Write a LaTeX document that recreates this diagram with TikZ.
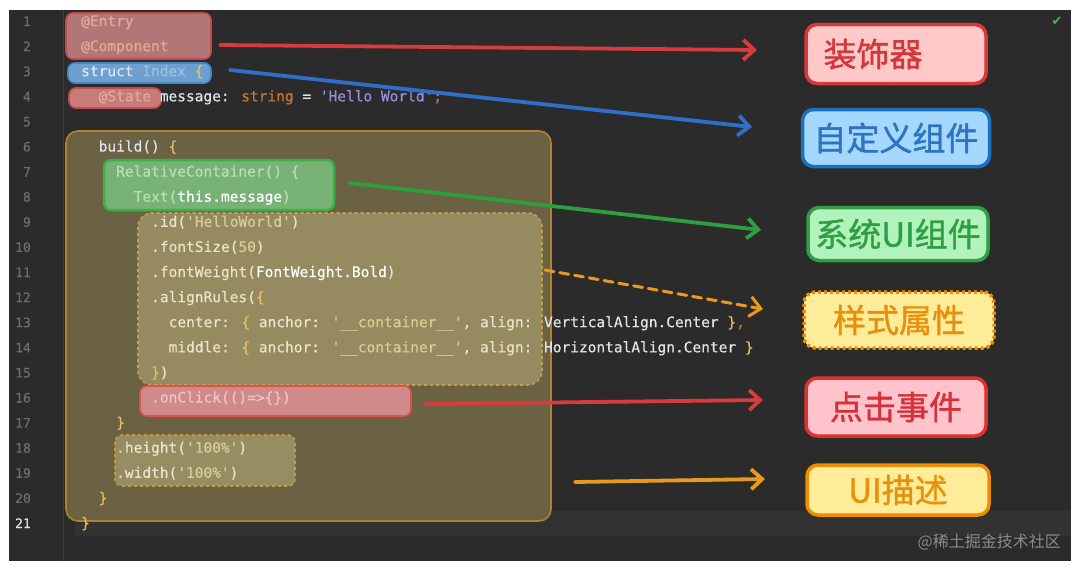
\documentclass[tikz,border=0pt]{standalone}
\usepackage{fontspec}
\newfontfamily\codefont[FakeBold=0.5]{DejaVu Sans Mono}
\newfontfamily\cjk{Noto Sans CJK SC}
\newfontfamily\cjkbold[FakeBold=1.2]{Noto Sans CJK SC}
\newfontfamily\sym{DejaVu Sans}
\usetikzlibrary{arrows.meta}
\definecolor{codebg}{HTML}{2B2B2B}
\definecolor{curline}{HTML}{323232}
\definecolor{gutline}{HTML}{3C3F41}
\definecolor{cnum}{HTML}{6A6E73}
\definecolor{cw}{HTML}{E0E4EA}
\definecolor{cy}{HTML}{E8C060}
\definecolor{cbrace}{HTML}{F0C040}
\definecolor{ckey}{HTML}{CC7832}
\definecolor{cstr}{HTML}{9C8CDF}
\definecolor{cann}{HTML}{E3A997}
\definecolor{cblue}{HTML}{9CC0E4}
\definecolor{cgreen}{HTML}{B8E0B0}
\definecolor{colive}{HTML}{ECE4C8}
\definecolor{colstr}{HTML}{D8CC98}
\definecolor{cpink}{HTML}{F3C4C4}
\definecolor{cwm}{HTML}{8C8C8C}
\definecolor{ccheck}{HTML}{4CAF50}
\definecolor{redline}{HTML}{D93A3C}
\definecolor{blueline}{HTML}{2F6FC8}
\definecolor{greenline}{HTML}{2E9E3E}
\definecolor{orangeline}{HTML}{E99A1E}
\definecolor{pinkfill}{HTML}{B27676}
\definecolor{pinkdraw}{HTML}{C24C4C}
\definecolor{statefill}{HTML}{C77B7B}
\definecolor{bluefill}{HTML}{6D9FD0}
\definecolor{bluedraw}{HTML}{4A86C5}
\definecolor{buildfill}{HTML}{6A6243}
\definecolor{builddraw}{HTML}{B0822C}
\definecolor{greenfill}{HTML}{78B276}
\definecolor{greendraw}{HTML}{3BB04A}
\definecolor{olivefill}{HTML}{968B60}
\definecolor{olivedraw}{HTML}{C2A050}
\definecolor{clickfill}{HTML}{D08A8A}
\definecolor{clickdraw}{HTML}{E05050}
\definecolor{sizefill}{HTML}{968D62}
\definecolor{sizedraw}{HTML}{C09A45}
\definecolor{decofill}{HTML}{FFC9C9}
\definecolor{decodraw}{HTML}{D9383A}
\definecolor{decotext}{HTML}{D0383A}
\definecolor{customfill}{HTML}{A5D8FF}
\definecolor{customdraw}{HTML}{1F6FC0}
\definecolor{customtext}{HTML}{2F74C2}
\definecolor{sysuifill}{HTML}{B2F2BB}
\definecolor{sysuidraw}{HTML}{2F9E44}
\definecolor{yellowfill}{HTML}{FFEC99}
\definecolor{yellowdraw}{HTML}{F08C00}
\definecolor{yellowtext}{HTML}{E8900C}
\definecolor{clicktagfill}{HTML}{FFC4CB}
\definecolor{clicktagdraw}{HTML}{E03131}
\definecolor{clicktext}{HTML}{D6303A}
\begin{document}
\begin{tikzpicture}[x=1pt,y=-1pt,
		code/.style={anchor=base west, inner sep=0pt,
			font=\codefont\fontsize{14.5}{17}\selectfont, text=cw},
		lnum/.style={anchor=base east, inner sep=0pt,
			font=\codefont\fontsize{13}{15}\selectfont, text=cnum},
		codebox/.style={rounded corners=7pt, line width=1.6pt},
		tag/.style={shape=rectangle, rounded corners=11pt, line width=3.5pt,
			align=center, inner sep=0pt, font=\cjkbold\fontsize{33}{36}\selectfont},
		hand/.style={line width=3.8pt, line cap=round,
			-{Straight Barb[length=11pt,width=20pt]}}]
	\useasboundingbox (0,0) rectangle (1080,570);
	\fill[white] (0,0) rectangle (1080,570);
	\fill[codebg] (9,10) rectangle (1071,561);
	\fill[curline] (75,511) rectangle (1071,536);
	\draw[gutline, line width=1pt] (63,10) -- (63,561);
	\foreach \n in {1,...,20}
		\node[lnum] at (31,{26+25.1*(\n-1)}) {\n};
	\node[lnum, text=cw] at (31,528) {21};
	\node[text=ccheck, font=\sym\fontsize{13}{13}\selectfont] (tick) at (1057,21) {✔};

	\draw[codebox, fill=pinkfill, draw=pinkdraw] (66,13) rectangle (211,59);
	\draw[codebox, fill=bluefill, draw=bluedraw] (68,63) rectangle (211,83);
	\draw[codebox, fill=statefill, draw=pinkdraw] (69,88) rectangle (161,108);
	\draw[codebox, fill=buildfill, draw=builddraw, rounded corners=12pt] (66,131) rectangle (551,521);
	\draw[codebox, fill=greenfill, draw=greendraw, line width=2.5pt] (104,160) rectangle (334,210);
	\draw[codebox, fill=olivefill, draw=olivedraw, dashed, rounded corners=14pt] (138,213) rectangle (542,385);
	\draw[codebox, fill=clickfill, draw=clickdraw] (140,386) rectangle (411,416);
	\draw[codebox, fill=sizefill, draw=sizedraw, dashed] (115,435) rectangle (295,486);

	\node[code, text=cann] (l1) at (81,26.0) {@Entry};
	\node[code, text=cann] (l2) at (81,51.1) {@Component};
	\node[code] (l3) at (81,76.2) {struct \textcolor{cblue}{Index} \textcolor{cy}{\{}};
	\node[code] (l4) at (98.5,101.3) {\textcolor{cann}{@State} message: \textcolor{ckey}{string} = \textcolor{cstr}{'Hello World'}\textcolor{ckey}{;}};
	\node[code] (l6) at (98.5,151.5) {build() \textcolor{cy}{\{}};
	\node[code, text=cgreen] (l7) at (116,176.6) {RelativeContainer() \{};
	\node[code, text=cgreen] (l8) at (133.5,201.7) {Text(\textcolor{white}{this.message})};
	\node[code, text=colive] (l9) at (151,226.8) {.id(\textcolor{colstr}{'HelloWorld'})};
	\node[code, text=colive] (l10) at (151,251.9) {.fontSize(\textcolor{colstr}{50})};
	\node[code, text=colive] (l11) at (151,277.0) {.fontWeight(\textcolor{white}{FontWeight.Bold})};
	\node[code, text=colive] (l12) at (151,302.1) {.alignRules(\textcolor{cy}{\{}};
	\node[code, text=colive] (l13) at (168.5,327.2) {center: \textcolor{cy}{\{} anchor: \textcolor{colstr}{'\_\_container\_\_'}, align: \textcolor{cw}{VerticalAlign.Center} \textcolor{cy}{\}}\textcolor{ckey}{,}};
	\node[code, text=colive] (l14) at (168.5,352.3) {middle: \textcolor{cy}{\{} anchor: \textcolor{colstr}{'\_\_container\_\_'}, align: \textcolor{cw}{HorizontalAlign.Center} \textcolor{cy}{\}}};
	\node[code, text=colive] (l15) at (151,377.4) {\textcolor{cy}{\}})};
	\node[code, text=cpink] (l16) at (151,402.5) {.onClick(()=>\{\})};
	\node[code, text=cy] (l17) at (116,427.6) {\}};
	\node[code, text=colive] (l18) at (116,452.7) {.height(\textcolor{colstr}{'100\%'})};
	\node[code, text=colive] (l19) at (116,477.8) {.width(\textcolor{colstr}{'100\%'})};
	\node[code, text=cy] (l20) at (98.5,502.9) {\}};
	\node[code, text=cbrace] (l21) at (81,528.0) {\}};

	\node[tag, fill=decofill, draw=decodraw, text=decotext,
		minimum width=180pt, minimum height=59pt] (deco) at (896,54) {装饰器\hspace{46pt}};
	\node[tag, fill=customfill, draw=customdraw, text=customtext,
		minimum width=187pt, minimum height=57pt] (custom) at (896,138) {自定义组件};
	\node[tag, fill=sysuifill, draw=sysuidraw, text=sysuidraw,
		minimum width=180pt, minimum height=53pt] (sysui) at (898,234) {系统UI组件};
	\node[tag, fill=yellowfill, draw=yellowdraw, text=yellowtext, dashed,
		minimum width=190pt, minimum height=56pt] (style) at (899,320) {样式属性};
	\node[tag, fill=clicktagfill, draw=clicktagdraw, text=clicktext,
		minimum width=180pt, minimum height=58pt] (click) at (896,407) {点击事件};
	\node[tag, fill=yellowfill, draw=yellowdraw, text=yellowtext,
		minimum width=182pt, minimum height=50pt] (uidesc) at (898,490) {UI描述};
	\node[anchor=base east, inner sep=0pt, text=cwm,
		font=\cjk\fontsize{16}{16}\selectfont] (mark) at (1061,547) {@稀土掘金技术社区};

	\coordinate (decotail) at (220,45);
	\coordinate (decotip) at (757,50);
	\coordinate (customtail) at (230,70);
	\coordinate (customtip) at (752,127);
	\coordinate (sysuitail) at (350,183);
	\coordinate (sysuitip) at (761,230);
	\coordinate (styletail) at (545,270);
	\coordinate (styletip) at (763,309);
	\coordinate (clicktail) at (425,404);
	\coordinate (clicktip) at (763,400);
	\coordinate (uidesctail) at (575,482);
	\coordinate (uidesctip) at (765,479);
	\draw[hand, redline] (decotail) -- (decotip);
	\draw[hand, blueline] (customtail) -- (customtip);
	\draw[hand, greenline] (sysuitail) -- (sysuitip);
	\draw[hand, orangeline, line width=3pt, dash pattern=on 9pt off 6pt] (styletail) -- (styletip);
	\draw[hand, redline] (clicktail) -- (clicktip);
	\draw[hand, orangeline] (uidesctail) -- (uidesctip);
\end{tikzpicture}
\end{document}
